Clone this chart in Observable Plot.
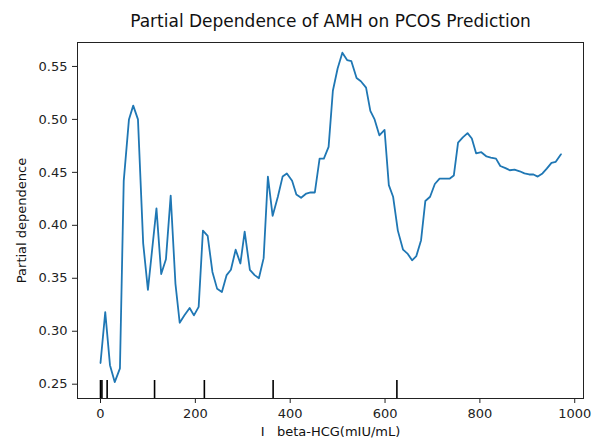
<!DOCTYPE html>
<html><head><meta charset="utf-8">
<script src="https://cdn.jsdelivr.net/npm/d3@7"></script>
<script src="https://cdn.jsdelivr.net/npm/@observablehq/plot@0.6"></script>
<style>body{margin:0;background:#fff} svg{font-family:"DejaVu Sans",sans-serif}</style>
</head><body><div id="chart"></div>
<script>
const gridX = [0,10,20,30,41,49,60,69,79,90,100,118,128,138,148,158,167,177,188,197,207,216,226,236,246,256,266,275,285,295,304,315,325,334,344,353,363,374,384,393,404,413,423,434,443,452,462,471,481,490,500,510,520,529,540,549,560,569,578,588,599,608,617,627,638,648,657,666,676,685,695,705,715,725,736,745,754,764,774,783,792,803,814,823,834,843,854,863,873,884,894,904,913,922,932,941,951,960,971];
const pdValues = [0.270,0.318,0.268,0.252,0.265,0.442,0.500,0.513,0.500,0.383,0.339,0.416,0.354,0.368,0.428,0.345,0.308,0.315,0.322,0.315,0.323,0.395,0.390,0.356,0.340,0.337,0.353,0.358,0.377,0.364,0.394,0.358,0.353,0.350,0.369,0.446,0.409,0.427,0.446,0.449,0.442,0.429,0.426,0.430,0.431,0.431,0.463,0.463,0.474,0.527,0.548,0.563,0.556,0.555,0.539,0.536,0.530,0.508,0.500,0.485,0.490,0.438,0.427,0.395,0.377,0.373,0.367,0.371,0.386,0.423,0.427,0.439,0.444,0.444,0.444,0.447,0.478,0.483,0.487,0.482,0.468,0.469,0.465,0.464,0.463,0.456,0.454,0.452,0.4525,0.451,0.449,0.448,0.448,0.446,0.449,0.4535,0.459,0.460,0.467];
const deciles = [0,3,14,114,219,364,625];
const xTicks = [0,200,400,600,800,1000];
const yTicks = [0.25,0.30,0.35,0.40,0.45,0.50,0.55];
const title = "Partial Dependence of AMH on PCOS Prediction";
const xLabel = "I   beta-HCG(mIU/mL)";
const yLabel = "Partial dependence";

const data = gridX.map((x, i) => ({x, y: pdValues[i]}));
const chart = Plot.plot({
  width: 595, height: 440,
  marginLeft: 77, marginRight: 12, marginTop: 42, marginBottom: 42,
  style: {fontFamily: "DejaVu Sans", fontSize: "13px", background: "#fff", color: "#222"},
  x: {domain: [-48.5, 1018.5]},
  y: {domain: [0.2365, 0.5726]},
  marks: [
    Plot.axisX({ticks: xTicks, tickSize: 5, tickPadding: 5, tickFormat: d3.format("d"), label: null, fontSize: 13}),
    Plot.axisY({ticks: yTicks, tickSize: 5, tickPadding: 5, tickFormat: d3.format(".2f"), label: null, fontSize: 13}),
    Plot.tickX(deciles, {x: d => d, insetTop: 338, stroke: "#000", strokeWidth: 1.6}),
    Plot.line(data, {x: "x", y: "y", stroke: "#1f77b4", strokeWidth: 1.8}),
    Plot.frame({stroke: "#222"}),
    Plot.text([title], {text: d => d, frameAnchor: "top", lineAnchor: "middle", dy: -21, fontSize: 17, fill: "#111"}),
    Plot.text([xLabel], {text: d => d, frameAnchor: "bottom", lineAnchor: "middle", dy: 33.5, fontSize: 13, fill: "#111"}),
    Plot.text([yLabel], {text: d => d, frameAnchor: "left", textAnchor: "middle", lineAnchor: "middle", dx: -56, rotate: -90, fontSize: 13, fill: "#111"})
  ]
});
document.getElementById("chart").append(chart);
</script>
</body></html>
